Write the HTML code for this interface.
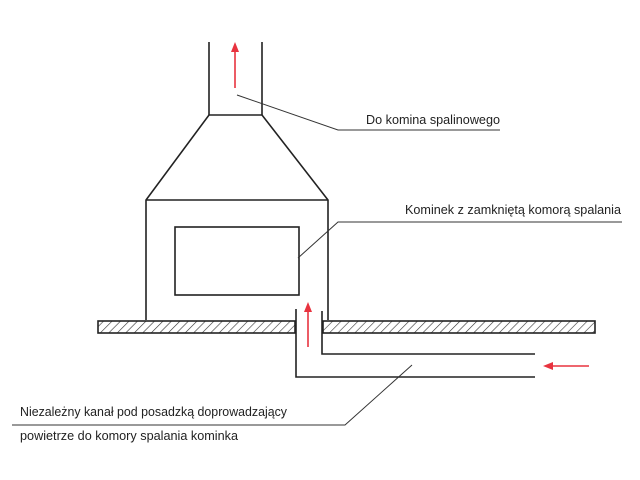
<!DOCTYPE html>
<html><head><meta charset="utf-8"><style>body{margin:0;background:#fff}svg{display:block}</style></head><body>
<svg width="640" height="480" viewBox="0 0 640 480" xmlns="http://www.w3.org/2000/svg">
<defs>
<pattern id="h" width="6" height="6" patternUnits="userSpaceOnUse" patternTransform="rotate(45)">
<line x1="0" y1="0" x2="0" y2="6" stroke="#333" stroke-width="1.2"/>
</pattern>
</defs>
<g fill="none" stroke="#222" stroke-width="1.6">
<line x1="209" y1="42" x2="209" y2="115"/>
<line x1="262" y1="42" x2="262" y2="115"/>
<polyline points="146,320 146,200 209,115 262,115 328,200 328,320"/>
<line x1="146" y1="200" x2="328" y2="200"/>
<rect x="175" y="227" width="124" height="68"/>
<rect x="98" y="321" width="197" height="12" fill="url(#h)"/>
<rect x="323" y="321" width="272" height="12" fill="url(#h)"/>
<polyline points="296,309 296,377 535,377"/>
<polyline points="322,311 322,354 535,354"/>
</g>
<g stroke="#333" stroke-width="1" fill="none">
<polyline points="237,95 338,130 500,130"/>
<polyline points="298,258 338,222 622,222"/>
<polyline points="412,365 345,425 12,425"/>
</g>
<g stroke="#e8333f" stroke-width="1.6" fill="#e8333f">
<line x1="235" y1="88" x2="235" y2="50"/><polygon points="235,42 231,52 239,52" stroke="none"/>
<line x1="308" y1="347" x2="308" y2="310"/><polygon points="308,302 304,312 312,312" stroke="none"/>
<line x1="589" y1="366" x2="552" y2="366"/><polygon points="543,366 553,362 553,370" stroke="none"/>
</g>
<g font-family="Liberation Sans, sans-serif" font-size="13" fill="#222">
<text x="366" y="124" textLength="134" lengthAdjust="spacingAndGlyphs">Do komina spalinowego</text>
<text x="405" y="214" textLength="216" lengthAdjust="spacingAndGlyphs">Kominek z zamkniętą komorą spalania</text>
<text x="20" y="416" textLength="267" lengthAdjust="spacingAndGlyphs">Niezależny kanał pod posadzką doprowadzający</text>
<text x="20" y="440" textLength="218" lengthAdjust="spacingAndGlyphs">powietrze do komory spalania kominka</text>
</g>
</svg>
</body></html>
